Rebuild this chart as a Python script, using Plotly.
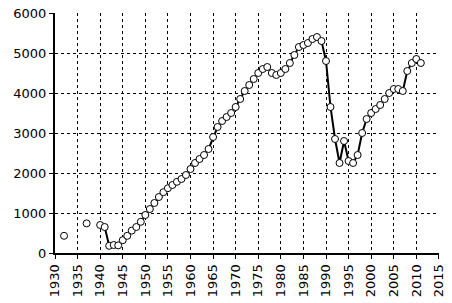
import plotly.graph_objects as go

years = list(range(1932, 2012))
values = [
    430, None, None, None, None, 740, None, None,            # 1932-1939
    700, 650, 180, 200, 190, 320, 430, 560, 650, 780,        # 1940-1949
    950, 1100, 1250, 1400, 1520, 1620, 1700, 1780, 1850, 1950,  # 1950-1959
    2100, 2250, 2350, 2450, 2600, 2900, 3150, 3300, 3400, 3500,  # 1960-1969
    3650, 3850, 4050, 4200, 4350, 4500, 4600, 4650, 4500, 4450,  # 1970-1979
    4500, 4600, 4750, 4950, 5150, 5200, 5250, 5350, 5400, 5300,  # 1980-1989
    4800, 3650, 2850, 2250, 2800, 2300, 2250, 2450, 3000, 3350,  # 1990-1999
    3500, 3600, 3700, 3850, 4000, 4100, 4100, 4050, 4550, 4750,  # 2000-2009
    4850, 4750,                                              # 2010-2011
]
x_ticks = list(range(1930, 2016, 5))
y_ticks = list(range(0, 6001, 1000))

fig = go.Figure()
fig.add_trace(go.Scatter(
    x=years, y=values, mode="lines+markers", connectgaps=False,
    line=dict(color="black", width=2),
    marker=dict(symbol="circle", size=7, color="white",
                line=dict(color="black", width=1)),
    showlegend=False,
))

font = dict(family="DejaVu Sans", size=13, color="black")
fig.update_layout(
    width=452, height=303,
    margin=dict(l=55, r=6, t=12, b=50),
    paper_bgcolor="white", plot_bgcolor="white",
    font=font,
)
fig.update_xaxes(
    range=[1930, 2015.02], tickvals=x_ticks, ticktext=[str(t) for t in x_ticks],
    tickangle=-90, ticks="outside", ticklen=4, tickcolor="black",
    ticklabeloverflow="allow",
    showline=True, linecolor="black", linewidth=2,
    showgrid=True, gridcolor="black", gridwidth=1, griddash="dot",
    zeroline=False, tickfont=font,
)
fig.update_yaxes(
    range=[0, 6000], tickvals=y_ticks, ticktext=[str(t) for t in y_ticks],
    ticks="outside", ticklen=4, tickcolor="black",
    showline=True, linecolor="black", linewidth=2,
    showgrid=True, gridcolor="black", gridwidth=1, griddash="dot",
    zeroline=False, tickfont=font,
)
fig.write_html("out.html")
